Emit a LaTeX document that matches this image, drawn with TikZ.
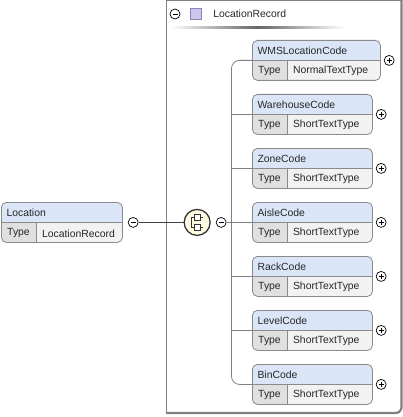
\documentclass[tikz,border=0pt]{standalone}
\usepackage{fontspec}
\setmainfont{Liberation Sans}
\usetikzlibrary{positioning}
\definecolor{namefill}{HTML}{DAE6F8}
\definecolor{typefill}{HTML}{E0E0E0}
\definecolor{valfill}{HTML}{F2F2F2}
\definecolor{edgegray}{HTML}{8A8A8A}
\definecolor{boxgray}{HTML}{808080}
\definecolor{seqfill}{HTML}{FFFBE3}
\definecolor{sqfill}{HTML}{CFC6EC}
\definecolor{sqedge}{HTML}{8F80C0}

\begin{document}
\begin{tikzpicture}[x=1pt, y=-1pt, font=\fontsize{10.4}{12}\selectfont, text=black!85,
    elem/.style={draw=edgegray, line width=0.8pt, rounded corners=5pt, fill=valfill,
      minimum height=40pt, inner sep=0pt, anchor=north west,
      path picture={
        \fill[namefill, sharp corners] (path picture bounding box.north west)
          rectangle ([yshift=-20pt]path picture bounding box.north east);
        \fill[typefill, sharp corners] ([yshift=-20pt]path picture bounding box.north west)
          rectangle ([xshift=35pt]path picture bounding box.south west);
        \draw[edgegray, sharp corners] ([yshift=-20pt]path picture bounding box.north west)
          -- ([yshift=-20pt]path picture bounding box.north east);
        \draw[edgegray, sharp corners] ([xshift=35pt,yshift=-20pt]path picture bounding box.north west)
          -- ([xshift=35pt]path picture bounding box.south west);
      }},
    expander/.style={circle, draw, line width=0.7pt, minimum size=10pt, inner sep=0pt,
      path picture={\draw[line width=0.8pt] ([xshift=-2.5pt]path picture bounding box.center)
        -- ([xshift=2.5pt]path picture bounding box.center);}},
    collapsed/.style={expander, path picture={\draw[line width=0.8pt]
        ([xshift=-2.5pt]path picture bounding box.center) -- ([xshift=2.5pt]path picture bounding box.center)
        ([yshift=-2.5pt]path picture bounding box.center) -- ([yshift=2.5pt]path picture bounding box.center);}},
    link/.style={draw=boxgray, line width=0.8pt},
    strong/.style={draw=black!75, line width=1.8pt}]

  \useasboundingbox (0,0) rectangle (403,417);

  % container of the complex type
  \draw[boxgray, line width=1pt] (166,0.5) -- (166,412.5) -- (400,412.5);
  \draw[boxgray, line width=1pt] (166,0.5) -- (401,0.5);
  \draw[boxgray, line width=2.2pt, rounded corners=6pt] (401.5,0) -- (401.5,413) -- (166,413);

  % header
  \node (hm) [expander] at (175,14) {};
  \node (hsq) [draw=sqedge, fill=sqfill, minimum size=11pt, inner sep=0pt, right=10pt of hm] {};
  \node (hdr) [anchor=west, right=8pt of hsq] {LocationRecord};
  \shade[left color=white, right color=black!60] (170,27) rectangle (258,29);
  \shade[left color=black!60, right color=white] (258,27) rectangle (345,29);

  % root element
  \node (loc) [elem, minimum width=121pt] at (1,202) {};
  \node (locn) [anchor=west] at ([xshift=2pt,yshift=-10.5pt]loc.north west) {Location};
  \node (loct) at ([xshift=17.5pt,yshift=9.5pt]loc.south west) {Type};
  \node (locv) [anchor=west] at ([xshift=37.5pt,yshift=9.5pt]loc.south west) {LocationRecord};
  \node (m1) [expander, right=5pt of loc] {};

  % sequence compositor
  \node (seq) [circle, draw=black!80, line width=1.3pt, fill=seqfill, minimum size=26pt,
    inner sep=0pt, right=45pt of m1] {};
  \draw[black!80, line width=0.8pt] ([xshift=-6pt,yshift=5pt]seq.center) -- ([xshift=6pt,yshift=5pt]seq.center)
    ([xshift=-6pt,yshift=-5pt]seq.center) -- ([xshift=6pt,yshift=-5pt]seq.center)
    ([xshift=-6pt,yshift=5pt]seq.center) -- ([xshift=-6pt,yshift=-5pt]seq.center);
  \draw[black!80, fill=white, line width=0.8pt] ([xshift=-3pt,yshift=2pt]seq.center) rectangle ([xshift=3pt,yshift=8pt]seq.center)
    ([xshift=-3pt,yshift=-8pt]seq.center) rectangle ([xshift=3pt,yshift=-2pt]seq.center);
  \node (m2) [expander, right=5pt of seq] {};
  \coordinate [right=5pt of m2.east] (trunk);

  % child elements
  \foreach \name/\type/\w [count=\i] in {WMSLocationCode/NormalTextType/128,
      WarehouseCode/ShortTextType/120, ZoneCode/ShortTextType/120,
      AisleCode/ShortTextType/120, RackCode/ShortTextType/120,
      LevelCode/ShortTextType/120, BinCode/ShortTextType/120} {
    \node (e\i) [elem, minimum width=\w pt] at (252,{40+54*(\i-1)}) {};
    \node (n\i) [anchor=west] at ([xshift=2pt,yshift=-10.5pt]e\i.north west) {\name};
    \node (t\i) at ([xshift=17.5pt,yshift=9.5pt]e\i.south west) {Type};
    \node (v\i) [anchor=west] at ([xshift=37.5pt,yshift=9.5pt]e\i.south west) {\type};
    \node (p\i) [collapsed, right=3pt of e\i] {};
  }

  % connectors
  \path [strong] (m1) -- (seq);
  \path [link] (m2) -- (trunk);
  \draw [link, rounded corners=8pt] (e1.west) -| (trunk) |- (e7.west);
  \foreach \i in {2,...,6}
    \draw [link] (e\i.west) -- (e\i.west -| trunk);
\end{tikzpicture}
\end{document}
